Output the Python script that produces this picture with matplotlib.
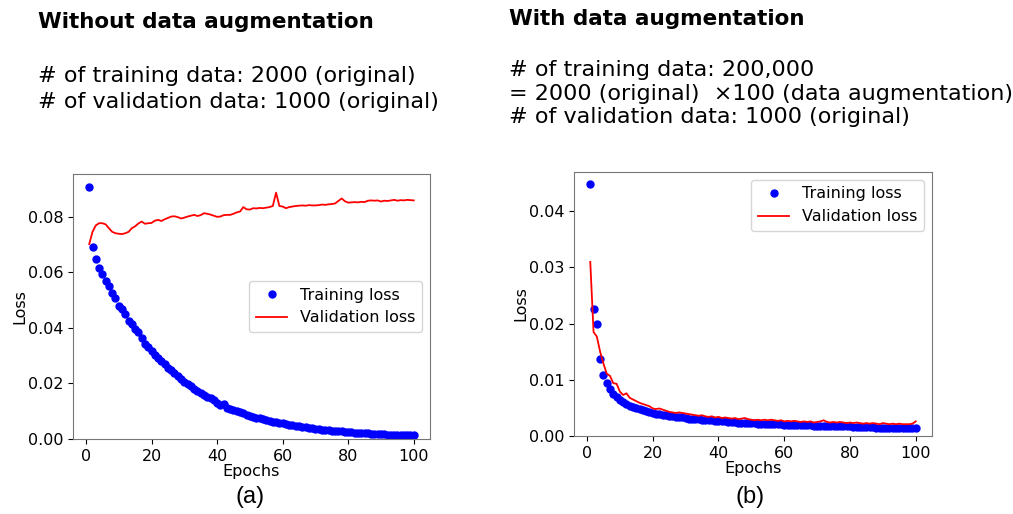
import matplotlib
matplotlib.use("Agg")
import matplotlib.pyplot as plt

epochs = list(range(1, 101))

# (a) without data augmentation
train_a = [
    0.0908, 0.0690, 0.0646, 0.0615, 0.0593, 0.0568, 0.0549, 0.0525, 0.0506, 0.0480,
    0.0468, 0.0450, 0.0425, 0.0412, 0.0397, 0.0384, 0.0365, 0.0340, 0.0330, 0.0315,
    0.0303, 0.0291, 0.0279, 0.0268, 0.0257, 0.0247, 0.0237, 0.0227, 0.0214, 0.0205,
    0.0197, 0.0189, 0.0181, 0.0173, 0.0166, 0.0159, 0.0152, 0.0146, 0.0140, 0.0131,
    0.0122, 0.0126, 0.0112, 0.0108, 0.0104, 0.0100, 0.0096, 0.0092, 0.0088, 0.0083,
    0.0080, 0.0077, 0.0074, 0.0071, 0.0068, 0.0065, 0.0062, 0.0060, 0.0058, 0.0056,
    0.0054, 0.0052, 0.0049, 0.0047, 0.0045, 0.0044, 0.0042, 0.0040, 0.0039, 0.0037,
    0.0036, 0.0034, 0.0033, 0.0032, 0.0030, 0.0029, 0.0028, 0.0027, 0.0026, 0.0025,
    0.0024, 0.0023, 0.0022, 0.0022, 0.0021, 0.0020, 0.0019, 0.0019, 0.0018, 0.0018,
    0.0017, 0.0016, 0.0016, 0.0015, 0.0015, 0.0015, 0.0014, 0.0014, 0.0013, 0.0013,
]
val_a = [
    0.0701, 0.0745, 0.0768, 0.0776, 0.0776, 0.0772, 0.0758, 0.0745, 0.0740, 0.0738,
    0.0737, 0.0740, 0.0745, 0.0758, 0.0765, 0.0775, 0.0782, 0.0774, 0.0776, 0.0777,
    0.0785, 0.0788, 0.0784, 0.0790, 0.0795, 0.0800, 0.0801, 0.0798, 0.0793, 0.0796,
    0.0800, 0.0803, 0.0806, 0.0802, 0.0805, 0.0812, 0.0810, 0.0807, 0.0803, 0.0799,
    0.0800, 0.0805, 0.0806, 0.0806, 0.0810, 0.0815, 0.0818, 0.0834, 0.0826, 0.0825,
    0.0830, 0.0829, 0.0831, 0.0830, 0.0832, 0.0834, 0.0838, 0.0886, 0.0838, 0.0836,
    0.0830, 0.0834, 0.0836, 0.0838, 0.0839, 0.0840, 0.0839, 0.0841, 0.0840, 0.0840,
    0.0841, 0.0843, 0.0842, 0.0844, 0.0845, 0.0847, 0.0856, 0.0865, 0.0855, 0.0850,
    0.0851, 0.0852, 0.0851, 0.0853, 0.0852, 0.0857, 0.0858, 0.0857, 0.0858, 0.0854,
    0.0857, 0.0856, 0.0858, 0.0860, 0.0857, 0.0859, 0.0858, 0.0860, 0.0859, 0.0858,
]

# (b) with data augmentation
train_b = [
    0.0449, 0.0226, 0.0199, 0.0137, 0.0108, 0.0094, 0.0083, 0.0075, 0.0069, 0.0064,
    0.0060, 0.0057, 0.0054, 0.0052, 0.0050, 0.0048, 0.0046, 0.0044, 0.0043, 0.0041,
    0.0040, 0.0039, 0.0038, 0.0037, 0.0036, 0.0035, 0.0034, 0.0033, 0.0033, 0.0032,
    0.0031, 0.0031, 0.0030, 0.0030, 0.0029, 0.0029, 0.0028, 0.0028, 0.0027, 0.0027,
    0.0026, 0.0026, 0.0025, 0.0025, 0.0025, 0.0024, 0.0024, 0.0024, 0.0023, 0.0023,
    0.0023, 0.0022, 0.0022, 0.0022, 0.0022, 0.0021, 0.0021, 0.0021, 0.0021, 0.0020,
    0.0020, 0.0020, 0.0020, 0.0019, 0.0019, 0.0019, 0.0019, 0.0019, 0.0018, 0.0018,
    0.0018, 0.0018, 0.0018, 0.0018, 0.0017, 0.0017, 0.0017, 0.0017, 0.0017, 0.0017,
    0.0016, 0.0016, 0.0016, 0.0016, 0.0016, 0.0016, 0.0016, 0.0015, 0.0015, 0.0015,
    0.0015, 0.0015, 0.0015, 0.0015, 0.0015, 0.0014, 0.0014, 0.0014, 0.0014, 0.0015,
]
val_b = [
    0.0310, 0.0185, 0.0177, 0.0150, 0.0129, 0.0111, 0.0107, 0.0094, 0.0093, 0.0079,
    0.0073, 0.0076, 0.0068, 0.0065, 0.0062, 0.0059, 0.0057, 0.0055, 0.0053, 0.0049,
    0.0048, 0.0049, 0.0047, 0.0045, 0.0043, 0.0042, 0.0041, 0.0042, 0.0041, 0.0040,
    0.0039, 0.0038, 0.0037, 0.0036, 0.0037, 0.0035, 0.0034, 0.0035, 0.0033, 0.0034,
    0.0032, 0.0033, 0.0032, 0.0031, 0.0032, 0.0030, 0.0031, 0.0032, 0.0030, 0.0029,
    0.0028, 0.0029, 0.0028, 0.0029, 0.0028, 0.0029, 0.0028, 0.0027, 0.0028, 0.0026,
    0.0027, 0.0026, 0.0027, 0.0026, 0.0025, 0.0026, 0.0025, 0.0026, 0.0024, 0.0025,
    0.0026, 0.0028, 0.0025, 0.0024, 0.0025, 0.0024, 0.0025, 0.0024, 0.0023, 0.0024,
    0.0023, 0.0024, 0.0023, 0.0022, 0.0023, 0.0022, 0.0023, 0.0022, 0.0021, 0.0023,
    0.0022, 0.0021, 0.0022, 0.0021, 0.0022, 0.0021, 0.0021, 0.0021, 0.0022, 0.0026,
]

header_a = "Without data augmentation"
lines_a = ["# of training data: 2000 (original)",
           "# of validation data: 1000 (original)"]
header_b = "With data augmentation"
lines_b = ["# of training data: 200,000",
           "= 2000 (original)  \u00d7100 (data augmentation)",
           "# of validation data: 1000 (original)"]

W, H = 1013, 514
fig = plt.figure(figsize=(W / 100, H / 100), dpi=100)

def draw_panel(rect, train, val, legend_loc, ytop, tag, tag_x):
    ax = fig.add_axes(rect)
    ax.plot(epochs, train, 'bo', markersize=5, label='Training loss')
    ax.plot(epochs, val, 'r', linewidth=1.3, label='Validation loss')
    ax.set_ylim(0, ytop)
    ax.set_xlabel('Epochs', fontsize=11.5, labelpad=0)
    ax.set_ylabel('Loss', fontsize=11.5, labelpad=0)
    ax.tick_params(labelsize=11.5)
    for s in ax.spines.values():
        s.set_color('#777777')
    ax.legend(loc=legend_loc, fontsize=11.5)
    fig.text(tag_x, 1 - 497 / H, tag, fontsize=17, family='Liberation Sans',
             ha='center', va='center')
    return ax

draw_panel([73 / W, 1 - 439 / H, 357 / W, 265 / H], train_a, val_a,
           'center right', 0.0953, '(a)', 250 / W)
draw_panel([574 / W, 1 - 436 / H, 358 / W, 264 / H], train_b, val_b,
           'upper right', 0.0470, '(b)', 750 / W)

# headers above each panel
fig.text(38 / W, 1 - 28 / H, header_a, fontsize=15.5, fontweight='bold', va='baseline')
for i, t in enumerate(lines_a):
    fig.text(38 / W, 1 - (82 + 26 * i) / H, t, fontsize=16, va='baseline')

fig.text(509 / W, 1 - 25 / H, header_b, fontsize=15.5, fontweight='bold', va='baseline')
for i, t in enumerate(lines_b):
    fig.text(509 / W, 1 - (76 + 23.5 * i) / H, t, fontsize=16, va='baseline')

fig.savefig('out.png', dpi=100)
